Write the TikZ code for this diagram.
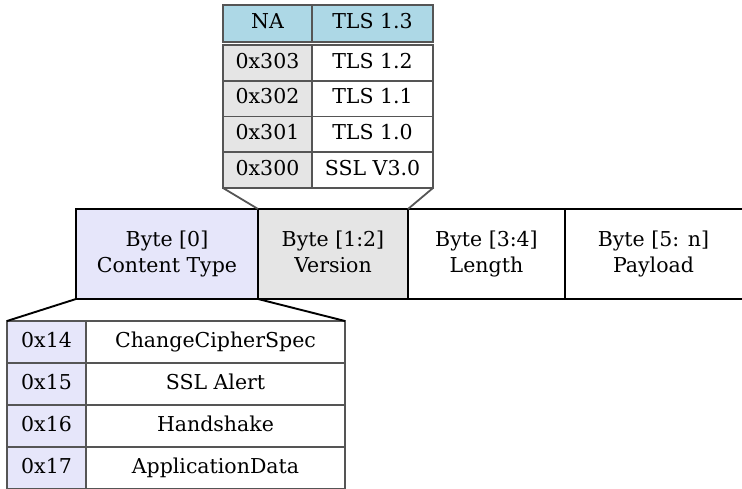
\documentclass[tikz,border=0pt]{standalone}
\usepackage{fontspec}
\setmainfont{DejaVu Serif}
\definecolor{hdrblue}{RGB}{173,216,230}
\definecolor{lavend}{RGB}{230,230,250}
\definecolor{cellgray}{RGB}{229,229,229}
\definecolor{gridgray}{RGB}{85,85,85}
\tikzset{
  cell/.style={draw=gridgray, line width=1.8pt, inner sep=0pt, outer sep=0pt, anchor=north west,
    font=\fontsize{20.5}{26}\selectfont, text height=15pt, text depth=4.5pt},
  field/.style={draw=black, line width=1.9pt, inner sep=0pt, outer sep=0pt, anchor=north west,
    minimum height=90pt, font=\fontsize{20.5}{26}\selectfont, align=center},
}
\begin{document}
\begin{tikzpicture}[x=1pt,y=1pt,yscale=-1]
\useasboundingbox (0,0) rectangle (742,489);

%Version table
\node [cell, fill=hdrblue, minimum width=89pt, minimum height=37pt] (na) at (223,5) {NA};
\node [cell, fill=hdrblue, minimum width=121pt, minimum height=37pt] (tls13) at (312,5) {TLS 1.3};
\node [cell, fill=cellgray, minimum width=89pt, minimum height=35.75pt] (v303) at (223,45) {0x303};
\node [cell, minimum width=121pt, minimum height=35.75pt] (tls12) at (312,45) {TLS 1.2};
\node [cell, fill=cellgray, minimum width=89pt, minimum height=35.75pt] (v302) at (223,80.75) {0x302};
\node [cell, minimum width=121pt, minimum height=35.75pt] (tls11) at (312,80.75) {TLS 1.1};
\node [cell, fill=cellgray, minimum width=89pt, minimum height=35.75pt] (v301) at (223,116.5) {0x301};
\node [cell, minimum width=121pt, minimum height=35.75pt] (tls10) at (312,116.5) {TLS 1.0};
\node [cell, fill=cellgray, minimum width=89pt, minimum height=35.75pt] (v300) at (223,152.25) {0x300};
\node [cell, minimum width=121pt, minimum height=35.75pt] (ssl30) at (312,152.25) {SSL V3.0};

%Record header
\node [field, fill=lavend, minimum width=182pt] (ctype) at (76,209) {\strut Byte [0]\\\strut Content Type};
\node [field, fill=cellgray, minimum width=150pt] (ver) at (258,209) {\strut Byte [1:2]\\\strut Version};
\node [field, minimum width=157pt] (len) at (408,209) {\strut Byte [3:4]\\\strut Length};
\node [field, draw=none, minimum width=177pt] (pay) at (565,209) {\strut Byte [5: n]\\\strut Payload};
\draw [line width=1.9pt] (pay.north west) -- (pay.north east);
\draw [line width=1.9pt] (pay.south west) -- (pay.south east);

%Content type table
\node [cell, fill=lavend, minimum width=79pt, minimum height=42pt] (t14) at (7,321) {0x14};
\node [cell, minimum width=259pt, minimum height=42pt] (ccs) at (86,321) {ChangeCipherSpec};
\node [cell, fill=lavend, minimum width=79pt, minimum height=42pt] (t15) at (7,363) {0x15};
\node [cell, minimum width=259pt, minimum height=42pt] (alert) at (86,363) {SSL Alert};
\node [cell, fill=lavend, minimum width=79pt, minimum height=42pt] (t16) at (7,405) {0x16};
\node [cell, minimum width=259pt, minimum height=42pt] (hs) at (86,405) {Handshake};
\node [cell, fill=lavend, minimum width=79pt, minimum height=42pt] (t17) at (7,447) {0x17};
\node [cell, minimum width=259pt, minimum height=42pt] (appd) at (86,447) {ApplicationData};

%Zoom lines
\draw [gridgray, line width=1.8pt] (v300.south west) -- (ver.north west);
\draw [gridgray, line width=1.8pt] (ssl30.south east) -- (ver.north east);
\draw [line width=1.9pt] (ctype.south west) -- (t14.north west);
\draw [line width=1.9pt] (ctype.south east) -- (ccs.north east);
\end{tikzpicture}
\end{document}
